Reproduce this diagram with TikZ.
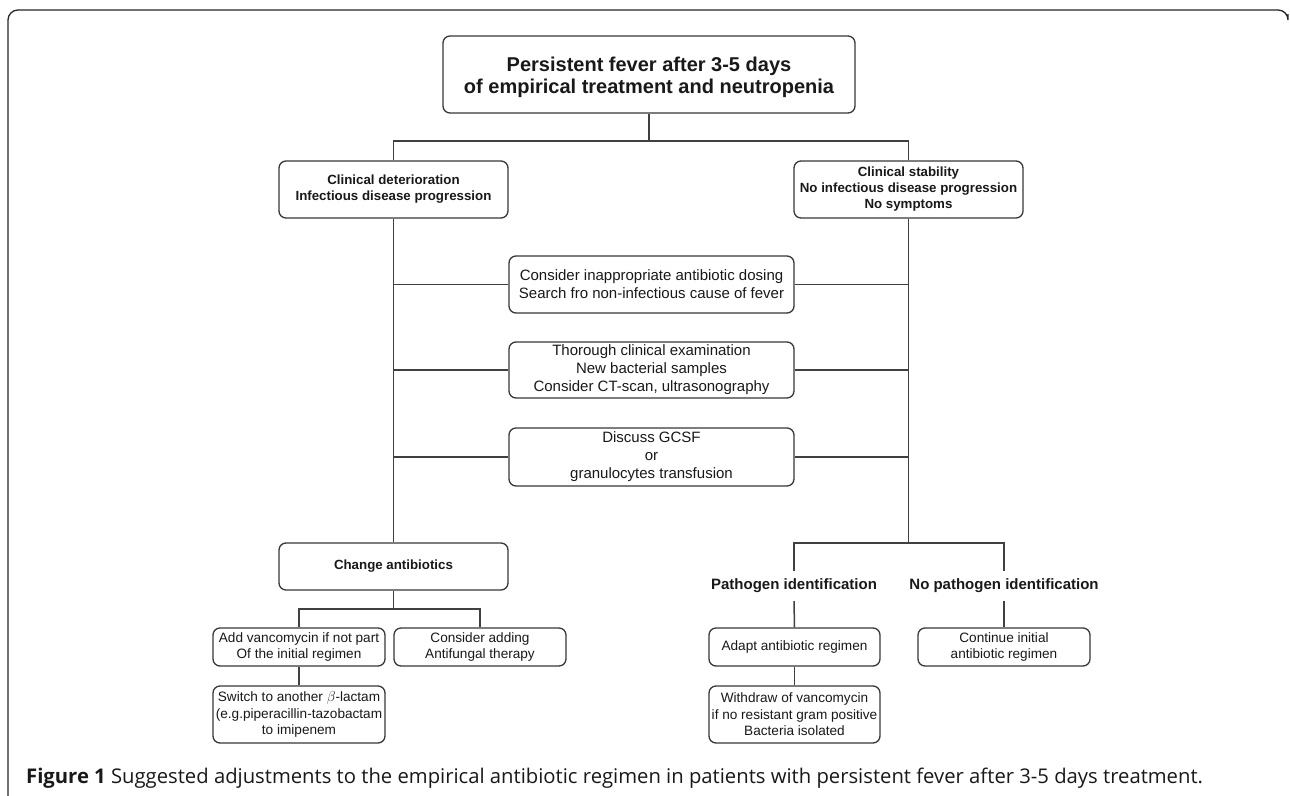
\documentclass[tikz,border=0pt]{standalone}
\usepackage{fontspec}
\setmainfont{Liberation Sans}
\newfontfamily\capfont{Open Sans}
\begin{document}
\begin{tikzpicture}[x=1pt,y=-1pt,
  box/.style={draw=black!78,line width=1.3pt,rounded corners=7pt,align=center,inner sep=0pt,text=black!90},
  link/.style={draw=black!75,line width=1.5pt},
  tbox/.style={box,font=\fontsize{20}{22}\selectfont\bfseries},
  bbox/.style={box,font=\fontsize{13.3}{16}\selectfont\bfseries},
  mbox/.style={box,font=\fontsize{15}{18}\selectfont},
  sbox/.style={box,font=\fontsize{13.6}{16.5}\selectfont},
  lab/.style={inner sep=0pt,minimum height=30pt,font=\fontsize{15}{16}\selectfont\bfseries,text=black!90}]
\useasboundingbox (0,0) rectangle (1290,795);
\fill[white] (0,0) rectangle (1290,795);
% outer frame
\draw[line width=1.3pt,black!85,rounded corners=10pt] (8,800) -- (8,10) -- (1288,10) -- (1288,14);
% nodes
\node[tbox,minimum width=412pt,minimum height=77pt] (top) at (649,74.5) {\raisebox{-4pt}[\height][\depth]{\begin{tabular}{@{}c@{}}Persistent fever after 3-5 days\\of empirical treatment and neutropenia\end{tabular}}};
\node[bbox,minimum width=229pt,minimum height=57pt] (det) at (393.5,189.5) {Clinical deterioration\\Infectious disease progression};
\node[bbox,minimum width=229pt,minimum height=57pt] (stab) at (908.5,189.5) {Clinical stability\\No infectious disease progression\\No symptoms};
\node[mbox,minimum width=285pt,minimum height=57pt] (m1) at (651.5,284.5) {Consider inappropriate antibiotic dosing\\Search fro non-infectious cause of fever};
\node[mbox,minimum width=285pt,minimum height=56pt] (m2) at (651.5,370) {Thorough clinical examination\\New bacterial samples\\Consider CT-scan, ultrasonography};
\node[mbox,minimum width=285pt,minimum height=58pt] (m3) at (651.5,457) {Discuss GCSF\\or\\granulocytes transfusion};
\node[bbox,minimum width=229pt,minimum height=47pt] (chg) at (393.5,566.5) {Change antibiotics};
\node[sbox,minimum width=172pt,minimum height=38pt] (add) at (299,647) {Add vancomycin if not part\\Of the initial regimen};
\node[sbox,minimum width=172pt,minimum height=38pt] (cons) at (480,647) {Consider adding\\Antifungal therapy};
\node[sbox,minimum width=172pt,minimum height=57pt] (sw) at (299,714.5) {Switch to another $\beta$-lactam\\(e.g.piperacillin-tazobactam\\to imipenem};
\node[lab] (path) at (794,586) {Pathogen identification};
\node[lab] (nopath) at (1004,586) {No pathogen identification};
\node[sbox,minimum width=171pt,minimum height=38pt] (adapt) at (794.5,647) {Adapt antibiotic regimen};
\node[sbox,minimum width=172pt,minimum height=38pt] (cont) at (1004,647) {Continue initial\\antibiotic regimen};
\node[sbox,minimum width=171pt,minimum height=57pt] (wd) at (794.5,714.5) {Withdraw of vancomycin\\if no resistant gram positive\\Bacteria isolated};
% connectors
\coordinate (j1) at (649,141);
\coordinate (j2) at (908.5,543);
\coordinate (j3) at (393.5,609);
\draw[link] (top.south) -- (j1);
\draw[link] (det.north) |- (j1) -| (stab.north);
\draw[link] (det.south) -- (chg.north);
\draw[link] (stab.south) -- (j2);
\draw[link] (m1.west) -- (det.south |- m1.west);
\draw[link] (m1.east) -- (stab.south |- m1.east);
\draw[link] (m2.west) -- (det.south |- m2.west);
\draw[link] (m2.east) -- (stab.south |- m2.east);
\draw[link] (m3.west) -- (det.south |- m3.west);
\draw[link] (m3.east) -- (stab.south |- m3.east);
\draw[link] (chg.south) -- (j3);
\draw[link] (add.north) |- (j3) -| (cons.north);
\draw[link] (add.south) -- (sw.north);
\draw[link] (path.north) |- (j2) -| (nopath.north);
\draw[link] (path.south) -- (adapt.north);
\draw[link] (nopath.south) -- (cont.north);
\draw[link] (adapt.south) -- (wd.north);
% caption
\node[anchor=base west,inner sep=0pt,font=\capfont\fontsize{20.25}{22}\selectfont,text=black!90] (cap) at (26,783) {\textbf{Figure 1} Suggested adjustments to the empirical antibiotic regimen in patients with persistent fever after 3-5 days treatment.};
\end{tikzpicture}
\end{document}
